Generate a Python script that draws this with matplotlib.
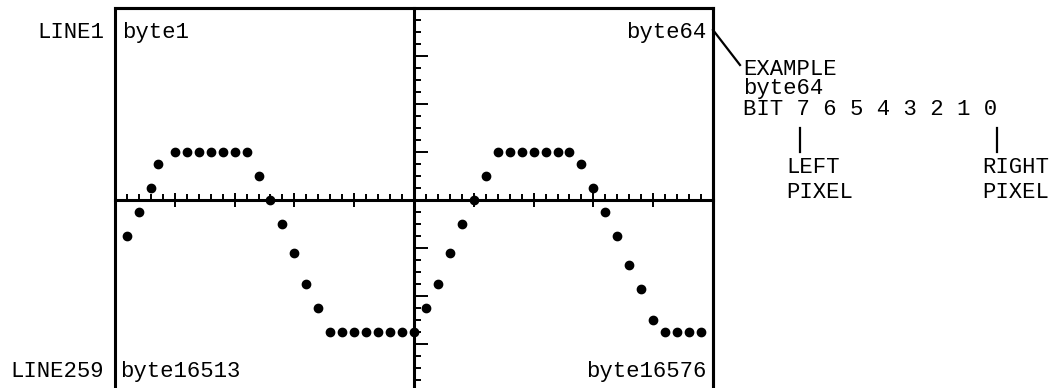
import matplotlib
matplotlib.use("Agg")
import matplotlib.pyplot as plt
import numpy as np
from matplotlib.lines import Line2D
from matplotlib.patches import Rectangle

# ---- data (units: one minor tick = 1) ----
x_pos = [-24, -23, -22, -21.4, -20, -19, -18, -17, -16, -15, -14, -13, -12,
         -11, -10, -9, -8, -7, -6, -5, -4, -3, -2, -1, 0,
         1, 2, 3, 4, 5, 6, 7, 8, 9, 10, 11, 12, 13, 14, 15, 16, 17, 18,
         19, 20, 21, 22, 23, 24]
y_val = [-3, -1, 1, 3, 4, 4, 4, 4, 4, 4, 4, 2, 0,
         -2, -4.4, -7, -9, -11, -11, -11, -11, -11, -11, -11, -11,
         -9, -7, -4.4, -2, 0, 2, 4, 4, 4, 4, 4, 4, 4, 3, 1, -1, -3, -5.4,
         -7.4, -10, -11, -11, -11, -11]

line_labels = ["LINE1", "LINE259"]
corner_labels = ["byte1", "byte64", "byte16513", "byte16576"]
example_lines = ["EXAMPLE", "byte64", "BIT 7 6 5 4 3 2 1 0"]
pixel_labels = [("LEFT", "PIXEL"), ("RIGHT", "PIXEL")]

W, H = 1064, 388
FONT = dict(family="Liberation Mono", size=16, color="black")
LW = 2.2

fig = plt.figure(figsize=(W / 100, H / 100), dpi=100)
fig.patch.set_facecolor("white")


def fx(x):
    return x / W


def fy(y):
    return 1 - y / H


ax = fig.add_axes([fx(115), fy(392), 598 / W, 384 / H])
ax.set_xlim(-25, 25)
ax.set_ylim(-16, 16)
ax.set_facecolor("white")

# central axes with ticks
ax.spines["left"].set_position("zero")
ax.spines["bottom"].set_position("zero")
for s in ax.spines.values():
    s.set_linewidth(LW)
ax.add_patch(Rectangle((0, 0), 1, 1, transform=ax.transAxes, fill=False,
                       lw=LW, edgecolor="black", clip_on=False, zorder=3))

ax.set_xticks(np.arange(-20, 21, 5))
ax.set_xticks(np.arange(-24, 25, 1), minor=True)
ax.set_yticks(np.arange(-12, 13, 4))
ax.set_yticks(np.arange(-15, 16, 1), minor=True)
ax.set_xticklabels([])
ax.set_yticklabels([])
ax.tick_params(axis="x", which="major", direction="inout", length=10, width=1.4)
ax.tick_params(axis="x", which="minor", direction="in", length=4.5, width=1.4)
ax.tick_params(axis="y", which="major", direction="in", length=10, width=1.4)
ax.tick_params(axis="y", which="minor", direction="in", length=5, width=1.4)

ax.plot(x_pos, y_val, linestyle="none", marker="o", markersize=6,
        color="black", zorder=4, clip_on=False)

# labels
fig.text(fx(104), fy(38), line_labels[0], ha="right", va="baseline", **FONT)
fig.text(fx(104), fy(377), line_labels[1], ha="right", va="baseline", **FONT)
fig.text(fx(122), fy(38), corner_labels[0], ha="left", va="baseline", **FONT)
fig.text(fx(706), fy(38), corner_labels[1], ha="right", va="baseline", **FONT)
fig.text(fx(120), fy(377), corner_labels[2], ha="left", va="baseline", **FONT)
fig.text(fx(706), fy(377), corner_labels[3], ha="right", va="baseline", **FONT)

for txt, base in zip(example_lines, [75, 94, 115]):
    fig.text(fx(743), fy(base), txt, ha="left", va="baseline", **FONT)

for (t1, t2), xl in zip(pixel_labels, [786, 982]):
    fig.text(fx(xl), fy(173), t1, ha="left", va="baseline", **FONT)
    fig.text(fx(xl), fy(198), t2, ha="left", va="baseline", **FONT)

# callout lines
fig.add_artist(Line2D([fx(713), fx(740)], [fy(30), fy(65)], color="black",
                      lw=1.6, transform=fig.transFigure))
for xl in [800, 997]:
    fig.add_artist(Line2D([fx(xl), fx(xl)], [fy(128), fy(152)], color="black",
                          lw=1.6, transform=fig.transFigure))

fig.savefig("out.png", dpi=100, facecolor="white")
